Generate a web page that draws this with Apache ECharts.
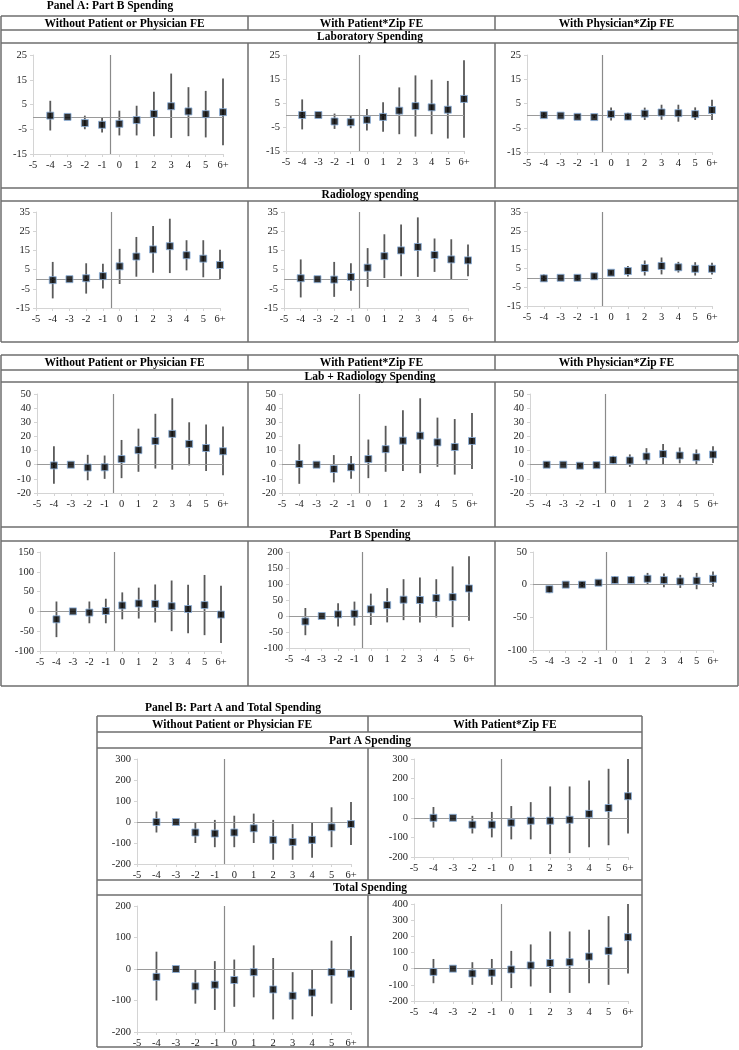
<!DOCTYPE html>
<html><head><meta charset="utf-8">
<script src="https://cdn.jsdelivr.net/npm/echarts@6/dist/echarts.min.js"></script>
<style>html,body{margin:0;padding:0;background:#fff}#c{width:739px;height:1050px}</style>
</head><body><div id="c"></div>
<script>
// ---- data ----
const xLabels = ['-5','-4','-3','-2','-1','0','1','2','3','4','5','6+'];
const periods = [-4,-3,-2,-1,0,1,2,3,4,5,6];
const colHeadsA = ['Without Patient or Physician FE','With Patient*Zip FE','With Physician*Zip FE'];
const colHeadsB = ['Without Patient or Physician FE','With Patient*Zip FE'];
const rowHeads = ['Laboratory Spending','Radiology spending','Lab + Radiology Spending','Part B Spending','Part A Spending','Total Spending'];

// Laboratory spending
const labEst1 = [0.5,0,-2.5,-3.2,-2.8,-1.3,1.2,4.3,2.2,1.1,1.9];
const labLo1  = [-5.5,null,-5,-6.3,-7.5,-7.5,-7.8,-8.5,-7.8,-8.3,-11.5];
const labHi1  = [6.5,null,0.5,0,2.5,4.5,10.2,17.5,12,10.5,15.5];
const labEst2 = [0,0,-2.7,-3,-2,-0.8,1.8,3.7,3.2,2.2,6.7];
const labLo2  = [-6,null,-5.8,-5.5,-6.5,-7,-8,-9,-8,-9.8,-9.5];
const labHi2  = [6.5,null,0.6,0,2.5,5.3,11.5,16.5,14.7,14.2,22.8];
const labEst3 = [0.2,0,-0.5,-0.6,0.6,-0.4,0.8,1.3,1,0.6,2.3];
const labLo3  = [-0.8,null,-0.9,-1,-2,-1.8,-1.8,-1.7,-2.5,-1.8,-1.8];
const labHi3  = [1.3,null,0,0,3.3,1.2,3.3,4.5,4.5,3.4,6.5];
// Radiology spending
const radEst1 = [-0.5,0,0.5,1.6,6.7,11.8,15.5,17.2,12.5,10.7,7.4];
const radLo1  = [-10,null,-7.5,-4.8,-2.5,1.3,3.3,3.2,4.6,1,0];
const radHi1  = [9,null,8.3,8,15.8,22,27.7,31.5,20.3,20.3,15.3];
const radEst2 = [0.5,0,-0.2,1.2,6,12,15,16.8,12.6,10.3,9.8];
const radLo2  = [-9.5,null,-9.2,-6,-4,0.6,1.5,1.2,3.8,0,1.5];
const radHi2  = [10.3,null,9,8.3,16.2,23.4,28.5,32.2,21.2,20.8,18.1];
const radEst3 = [-0.3,0,0,0.8,2.7,3.6,5.2,6.3,5.6,4.8,4.8];
const radLo3  = [-1.8,null,-1.5,-0.8,1.8,0.7,1.2,1.8,2.8,1.2,1.7];
const radHi3  = [1.8,null,1.5,2.2,3.7,6.3,9.2,10.8,8.5,8.3,8];
// Lab + Radiology spending
const lrEst1 = [-0.5,0,-2,-1.8,4,10.3,16.8,21.8,14.7,11.8,9.5];
const lrLo1  = [-13.5,null,-11,-10,-9.5,-5,-2.7,-3.5,-0.5,-4.5,-7.5];
const lrHi1  = [13,null,7,6.5,17.5,25.5,36,47,30,28.5,27];
const lrEst2 = [0.5,0,-3,-1.8,4,11,17,20.5,15.8,12.5,16.8];
const lrLo2  = [-13.5,null,-12.5,-10,-9.5,-5,-4.5,-6,-1.5,-7,-3];
const lrHi2  = [14.5,null,6.8,6.2,17.8,27.5,38.5,47,33.3,32.3,36.5];
const lrEst3 = [0,0,-0.7,-0.3,3.3,3,5.8,7.5,6.5,5.3,7.2];
const lrLo3  = [-1.5,null,-1.5,-1.5,0.5,-1.5,0,0.5,1,0,1.3];
const lrHi3  = [1.8,null,0,1,6.3,7.3,11.7,14.7,12.2,10.8,13.1];
// Part B spending
const pbEst1 = [-20,0,-3,1,15,20,19,13,6,16,-8];
const pbLo1  = [-65,null,-30,-30,-20,-18,-28,-50,-55,-60,-80];
const pbHi1  = [25,null,25,32,48,60,68,78,67,92,65];
const pbEst2 = [-17,0,5,7,21,34,51,50,56,59,86];
const pbLo2  = [-60,null,-33,-30,-28,-20,-13,-20,-5,-35,-15];
const pbHi2  = [25,null,40,45,70,87,115,120,115,155,187];
const pbEst3 = [-7,0,0,3,7,7,9,7,5,6,9];
const pbLo3  = [-13,null,-3,0,2,2,1,-4,-5,-7,-3];
const pbHi3  = [-2,null,4,6,13,13,18,17,15,18,20];
// Part A spending
const paEst1 = [0,0,-50,-55,-50,-30,-85,-95,-85,-25,-10];
const paLo1  = [-50,null,-100,-120,-120,-100,-180,-180,-170,-120,-110];
const paHi1  = [50,null,0,10,30,40,10,-10,0,70,95];
const paEst2 = [0,0,-35,-35,-25,-15,-15,-10,20,50,110];
const paLo2  = [-50,null,-80,-100,-110,-110,-185,-180,-150,-140,-80];
const paHi2  = [55,null,10,30,60,80,160,160,190,250,300];
// Total spending
const totEst1 = [-25,0,-55,-50,-35,-10,-65,-85,-75,-10,-15];
const totLo1  = [-100,null,-110,-130,-120,-90,-160,-160,-150,-110,-130];
const totHi1  = [55,null,0,25,30,75,35,-10,0,90,105];
const totEst2 = [-20,0,-30,-25,-5,20,35,40,75,110,195];
const totLo2  = [-90,null,-100,-100,-120,-110,-150,-150,-90,-100,-30];
const totHi2  = [60,null,40,60,110,150,230,230,240,325,400];

// ---- layout ----
const panels = [
  {est:labEst1,lo:labLo1,hi:labHi1,min:-15,max:25,iv:10,L:33,R:223,T:55,B:154},
  {est:labEst2,lo:labLo2,hi:labHi2,min:-15,max:25,iv:10,L:286,R:464,T:55,B:151},
  {est:labEst3,lo:labLo3,hi:labHi3,min:-15,max:25,iv:10,L:527,R:712,T:55,B:152},
  {est:radEst1,lo:radLo1,hi:radHi1,min:-15,max:35,iv:10,L:36,R:220,T:212,B:308},
  {est:radEst2,lo:radLo2,hi:radHi2,min:-15,max:35,iv:10,L:284,R:468,T:212,B:308},
  {est:radEst3,lo:radLo3,hi:radHi3,min:-15,max:35,iv:10,L:527,R:712,T:212,B:306},
  {est:lrEst1,lo:lrLo1,hi:lrHi1,min:-20,max:50,iv:10,L:37,R:223,T:394,B:493},
  {est:lrEst2,lo:lrLo2,hi:lrHi2,min:-20,max:50,iv:10,L:282,R:472,T:394,B:493},
  {est:lrEst3,lo:lrLo3,hi:lrHi3,min:-20,max:50,iv:10,L:530,R:713,T:394,B:493},
  {est:pbEst1,lo:pbLo1,hi:pbHi1,min:-100,max:150,iv:50,L:40,R:221,T:552,B:651},
  {est:pbEst2,lo:pbLo2,hi:pbHi2,min:-100,max:200,iv:50,L:289,R:469,T:552,B:648},
  {est:pbEst3,lo:pbLo3,hi:pbHi3,min:-100,max:50,iv:50,L:533,R:713,T:552,B:650},
  {est:paEst1,lo:paLo1,hi:paHi1,min:-200,max:300,iv:100,L:137,R:351,T:759,B:864},
  {est:paEst2,lo:paLo2,hi:paHi2,min:-200,max:300,iv:100,L:414,R:628,T:759,B:857},
  {est:totEst1,lo:totLo1,hi:totHi1,min:-200,max:200,iv:100,L:137,R:351,T:906,B:1032},
  {est:totEst2,lo:totLo2,hi:totHi2,min:-200,max:400,iv:100,L:414,R:628,T:904,B:1001}
];

const FONT = '"Liberation Serif","DejaVu Serif",serif';
const grid=[], xAxis=[], yAxis=[], series=[];
panels.forEach((p,i)=>{
  grid.push({left:p.L, top:p.T, width:p.R-p.L, height:p.B-p.T, containLabel:false});
  xAxis.push({gridIndex:i, type:'value', min:-5, max:6, interval:1,
    axisLine:{show:true, onZero:false, lineStyle:{color:'#d4d4d4', width:1}},
    axisTick:{show:true, length:3, lineStyle:{color:'#d4d4d4'}},
    splitLine:{show:false},
    axisLabel:{fontFamily:FONT, fontSize:10.5, color:'#222', margin:6,
      formatter:v=>xLabels[Math.round(v)+5]}});
  yAxis.push({gridIndex:i, type:'value', min:p.min, max:p.max, interval:p.iv,
    axisLine:{show:true, onZero:false, lineStyle:{color:'#d4d4d4', width:1}},
    axisTick:{show:true, length:3, lineStyle:{color:'#d4d4d4'}},
    splitLine:{show:false},
    axisLabel:{fontFamily:FONT, fontSize:10.5, color:'#222', margin:6}});
  const barData=[];
  periods.forEach((t,k)=>{ if(p.lo[k]!==null) barData.push([t,p.lo[k],p.hi[k]]); });
  series.push({type:'custom', xAxisIndex:i, yAxisIndex:i, z:3, silent:true,
    data:barData, encode:{x:0,y:[1,2]},
    renderItem:(params,api)=>{
      const a=api.coord([api.value(0),api.value(1)]);
      const b=api.coord([api.value(0),api.value(2)]);
      return {type:'line', shape:{x1:a[0],y1:a[1],x2:b[0],y2:b[1]},
        style:{stroke:'#5a5a5a', lineWidth:1.8}};
    }});
  series.push({type:'scatter', xAxisIndex:i, yAxisIndex:i, z:5, silent:true,
    symbol:'rect', symbolSize:7,
    itemStyle:{color:'#000', borderColor:'#8db3df', borderWidth:1},
    data:periods.map((t,k)=>[t,p.est[k]]),
    markLine:{silent:true, symbol:'none', animation:false,
      label:{show:false},
      lineStyle:{color:'#9a9a9a', width:1, type:'solid'},
      data:[{yAxis:0},{xAxis:-0.5, lineStyle:{color:'#8a8a8a', width:1.2}}]}});
});

// ---- table graphics ----
const G=[];
const LC='#6e6e6e';
const HS=11.5;
function hline(x1,x2,y){G.push({type:'line',shape:{x1,y1:y,x2,y2:y},style:{stroke:LC,lineWidth:1.5},silent:true});}
function vline(x,y1,y2){G.push({type:'line',shape:{x1:x,y1,x2:x,y2},style:{stroke:LC,lineWidth:1.5},silent:true});}
function txt(s,x,y,size){G.push({type:'text',x,y,silent:true,style:{text:s,fill:'#000',font:'bold '+(size||HS)+'px '+FONT,textAlign:'center',textVerticalAlign:'middle'}});}

function tableA(y0,yh,ys,yc,ys2,yb,sub1,sub2){
  const xs=[1,248,495,738];
  [y0,yh,ys,yc,ys2,yb].forEach(y=>hline(1,738,y));
  vline(1,y0,yb); vline(738,y0,yb);
  [248,495].forEach(x=>{vline(x,y0,yh); vline(x,ys,yc); vline(x,ys2,yb);});
  colHeadsA.forEach((h,k)=>txt(h,(xs[k]+xs[k+1])/2,(y0+yh)/2+1));
  txt(sub1,370,(yh+ys)/2+1); txt(sub2,370,(yc+ys2)/2+1);
}
txt('Panel A: Part B Spending',110,6);
tableA(16,30,43,188,201,342,rowHeads[0],rowHeads[1]);
tableA(355,370,382,527,541,686,rowHeads[2],rowHeads[3]);

txt('Panel B: Part A and Total Spending',233,708);
(function(){
  const y0=716,yh=732,ys=748,yc=880,ys2=895,yb=1047;
  [y0,yh,ys,yc,ys2,yb].forEach(y=>hline(97,642,y));
  vline(97,y0,yb); vline(642,y0,yb);
  vline(368,y0,yh); vline(368,ys,yc); vline(368,ys2,yb);
  txt(colHeadsB[0],232,(y0+yh)/2+1); txt(colHeadsB[1],505,(y0+yh)/2+1);
  txt(rowHeads[4],370,(yh+ys)/2+1); txt(rowHeads[5],370,(yc+ys2)/2+1);
})();

const chart=echarts.init(document.getElementById('c'),null,{renderer:'canvas'});
chart.setOption({animation:false, backgroundColor:'#fff', grid, xAxis, yAxis, series, graphic:G});
</script></body></html>
